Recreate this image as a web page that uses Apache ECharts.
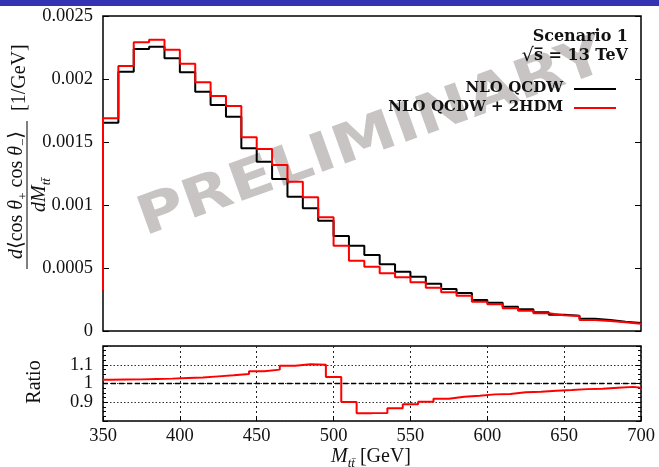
<!DOCTYPE html>
<html><head><meta charset="utf-8">
<script src="https://cdn.jsdelivr.net/npm/echarts@6/dist/echarts.min.js"></script>
<style>html,body{margin:0;padding:0;background:#fff}#c{width:659px;height:467px}</style>
</head><body><div id="c"></div>
<script>
// ---- data ----
const massBinEdges = [350,360,370,380,390,400,410,420,430,440,450,460,470,480,490,500,510,520,530,540,550,560,570,580,590,600,610,620,630,640,650,660,670,680,690,700];
const nloQCDW = [0.001653,0.002058,0.002238,0.002256,0.002164,0.002053,0.001899,0.001794,0.001701,0.001450,0.001344,0.001206,0.001066,0.000974,0.000875,0.000754,0.000677,0.000603,0.000529,0.000471,0.000431,0.000375,0.000333,0.000302,0.000246,0.000225,0.000193,0.000172,0.000148,0.000129,0.000121,0.000098,0.000087,0.000074,0.000063];
const nloQCDW2HDM = [0.001688,0.002103,0.002291,0.002312,0.002233,0.002121,0.001974,0.001865,0.001786,0.001537,0.001444,0.001317,0.001185,0.001061,0.000902,0.000677,0.000558,0.000510,0.000458,0.000426,0.000387,0.000344,0.000307,0.000279,0.000233,0.000212,0.000180,0.000161,0.000140,0.000125,0.000119,0.000087,0.000079,0.000069,0.000058];
const firstEdgeValue = 0.00032;
const ratioEdges = [350,355,365,375,385,395,405,415,425,435,445,455,465,475,485,495,505,515,525,535,545,555,565,575,585,595,605,615,625,635,645,655,665,675,685,695,700];
const ratioValues = [1.020,1.021,1.022,1.024,1.026,1.029,1.032,1.038,1.044,1.051,1.065,1.074,1.095,1.103,1.100,1.035,0.902,0.842,0.843,0.868,0.889,0.903,0.919,0.929,0.935,0.942,0.944,0.953,0.956,0.961,0.965,0.970,0.972,0.977,0.982,0.977];
const unityLine = [[350,1],[700,1]];
const legendLabels = ['NLO QCDW','NLO QCDW + 2HDM'];

function steps(edges, vals, start){
  const pts = [];
  if (start != null) pts.push([edges[0], start]);
  for (let i = 0; i < vals.length; i++){ pts.push([edges[i], vals[i]]); pts.push([edges[i+1], vals[i]]); }
  return pts;
}

const serif = "'Liberation Serif','DejaVu Serif',serif";
const bserif = "'DejaVu Serif',serif";
const txt = '#111';
const rich = {
  i:{fontFamily:serif,fontStyle:'italic',fontSize:20,lineHeight:26,verticalAlign:'middle',fill:txt,color:txt},
  n:{fontFamily:serif,fontSize:20,lineHeight:26,verticalAlign:'middle',fill:txt,color:txt},
  s:{fontFamily:serif,fontSize:13,lineHeight:16,verticalAlign:'bottom',fill:txt,color:txt},
  si:{fontFamily:serif,fontStyle:'italic',fontSize:13,lineHeight:16,verticalAlign:'bottom',fill:txt,color:txt}
};
const brich = {
  r:{fontFamily:bserif,fontSize:19,lineHeight:22,verticalAlign:'middle',fill:txt,color:txt},
  b:{fontFamily:bserif,fontWeight:'bold',fontSize:16,lineHeight:22,verticalAlign:'middle',fill:txt,color:txt}
};

const chart = echarts.init(document.getElementById('c'), null, {renderer:'canvas'});
const dotted = {color:'#222',type:[2,3],width:1};
chart.setOption({
  animation:false,
  backgroundColor:'#fff',
  grid:[
    {left:103,top:16,width:538,height:315,show:true,borderColor:'#000',borderWidth:1.5,backgroundColor:'rgba(0,0,0,0)'},
    {left:103,top:346,width:538,height:75,show:true,borderColor:'#000',borderWidth:1.5,backgroundColor:'rgba(0,0,0,0)'}
  ],
  xAxis:[
    {gridIndex:0,type:'value',min:350,max:700,interval:50,axisLine:{show:false},axisTick:{show:false},axisLabel:{show:false},splitLine:{show:false}},
    {gridIndex:1,type:'value',min:350,max:700,interval:50,axisLine:{show:false},
     axisTick:{show:true,inside:true,length:5,lineStyle:{color:'#000'}},
     axisLabel:{show:true,margin:6,fontFamily:serif,fontSize:18.5,color:txt},
     splitLine:{show:true,lineStyle:dotted}}
  ],
  yAxis:[
    {gridIndex:0,type:'value',min:0,max:0.0025,interval:0.0005,axisLine:{show:false},
     axisTick:{show:true,inside:true,length:6,lineStyle:{color:'#000'}},
     axisLabel:{margin:10,fontFamily:serif,fontSize:18.5,color:txt,formatter:v=>v===0?'0':String(+v.toFixed(4))},
     splitLine:{show:false}},
    {gridIndex:0,type:'value',position:'right',min:0,max:0.0025,interval:0.0005,axisLine:{show:false},
     axisTick:{show:true,inside:true,length:6,lineStyle:{color:'#000'}},axisLabel:{show:false},splitLine:{show:false}},
    {gridIndex:1,type:'value',min:0.8,max:1.2,interval:0.1,axisLine:{show:false},
     axisTick:{show:true,inside:true,length:5,lineStyle:{color:'#000'}},
     minorTick:{show:true,splitNumber:4,length:3,lineStyle:{color:'#000'}},
     axisLabel:{margin:10,fontFamily:serif,fontSize:18.5,color:txt,formatter:v=>v>1.15?'':String(+v.toFixed(1))},
     splitLine:{show:true,lineStyle:{color:'#333',type:[1.5,2],width:1}}},
    {gridIndex:1,type:'value',position:'right',min:0.8,max:1.2,interval:0.1,axisLine:{show:false},
     axisTick:{show:true,inside:true,length:5,lineStyle:{color:'#000'}},
     minorTick:{show:true,splitNumber:4,length:3,lineStyle:{color:'#000'}},
     axisLabel:{show:false},splitLine:{show:false}}
  ],
  series:[
    {type:'line',xAxisIndex:0,yAxisIndex:0,data:steps(massBinEdges,nloQCDW,firstEdgeValue),showSymbol:false,symbol:'none',z:3,
     lineStyle:{color:'#000',width:2}},
    {type:'line',xAxisIndex:0,yAxisIndex:0,data:steps(massBinEdges,nloQCDW2HDM,firstEdgeValue),showSymbol:false,symbol:'none',z:4,
     lineStyle:{color:'#ff0000',width:2}},
    {type:'line',xAxisIndex:1,yAxisIndex:2,data:unityLine,showSymbol:false,symbol:'none',z:3,
     lineStyle:{color:'#000',width:1.4,type:[5,3]}},
    {type:'line',xAxisIndex:1,yAxisIndex:2,data:steps(ratioEdges,ratioValues,null),showSymbol:false,symbol:'none',z:4,
     lineStyle:{color:'#ff0000',width:2}}
  ],
  graphic:[
    {type:'rect',shape:{x:0,y:0,width:659,height:6},style:{fill:'#3333b3'},z:10},
    {type:'text',x:372,y:139,rotation:0.345,scaleX:1.08,scaleY:0.9,z:1,
     style:{text:'PRELIMINARY',fontFamily:"'DejaVu Sans',sans-serif",fontWeight:'bold',fontSize:60,fill:'#c8c4c4',align:'center',verticalAlign:'middle',textAlign:'center',textVerticalAlign:'middle'}},
    // legend / annotations
    {type:'text',x:628,y:37,z:10,style:{text:'Scenario 1',fontFamily:bserif,fontWeight:'bold',fontSize:16,fill:txt,align:'right',verticalAlign:'middle',textAlign:'right',textVerticalAlign:'middle'}},
    {type:'text',x:628,y:56,z:10,style:{text:'{r|\u221A}{b|s\u0305 = 13 TeV}',rich:brich,align:'right',verticalAlign:'middle',textAlign:'right',textVerticalAlign:'middle'}},
    {type:'text',x:563,y:88,z:10,style:{text:legendLabels[0],fontFamily:bserif,fontWeight:'bold',fontSize:15,fill:txt,align:'right',verticalAlign:'middle',textAlign:'right',textVerticalAlign:'middle'}},
    {type:'text',x:563,y:107,z:10,style:{text:legendLabels[1],fontFamily:bserif,fontWeight:'bold',fontSize:15,fill:txt,align:'right',verticalAlign:'middle',textAlign:'right',textVerticalAlign:'middle'}},
    {type:'line',z:10,shape:{x1:574,y1:89,x2:616,y2:89},style:{stroke:'#000',lineWidth:2}},
    {type:'line',z:10,shape:{x1:574,y1:108,x2:616,y2:108},style:{stroke:'#ff0000',lineWidth:2}},
    // x axis title
    {type:'text',x:371,y:457,z:10,style:{text:'{i|M}{si|tt\u0304}{n| [GeV]}',rich:rich,align:'center',verticalAlign:'middle',textAlign:'center',textVerticalAlign:'middle'}},
    // Ratio title
    {type:'text',x:35,y:382,rotation:Math.PI/2,z:10,style:{text:'Ratio',fontFamily:serif,fontSize:20,fill:txt,align:'center',verticalAlign:'middle',textAlign:'center',textVerticalAlign:'middle'}},
    // y axis title (fraction)
    {type:'group',x:27,y:195,rotation:Math.PI/2,z:10,children:[
      {type:'line',shape:{x1:-74,y1:0,x2:74,y2:0},style:{stroke:'#000',lineWidth:1}},
      {type:'text',x:0,y:-10,style:{text:'{i|d}{n|\u27E8cos }{i|\u03B8}{s|+}{n| cos }{i|\u03B8}{s|\u2212}{n|\u27E9}',rich:rich,align:'center',verticalAlign:'middle',textAlign:'center',textVerticalAlign:'middle'}},
      {type:'text',x:0,y:13,style:{text:'{i|dM}{si|tt\u0304}',rich:rich,align:'center',verticalAlign:'middle',textAlign:'center',textVerticalAlign:'middle'}},
      {type:'text',x:84,y:-7,style:{text:'[1/GeV]',fontFamily:serif,fontSize:20,fill:txt,align:'left',verticalAlign:'middle',textAlign:'left',textVerticalAlign:'middle'}}
    ]}
  ]
});
</script></body></html>
